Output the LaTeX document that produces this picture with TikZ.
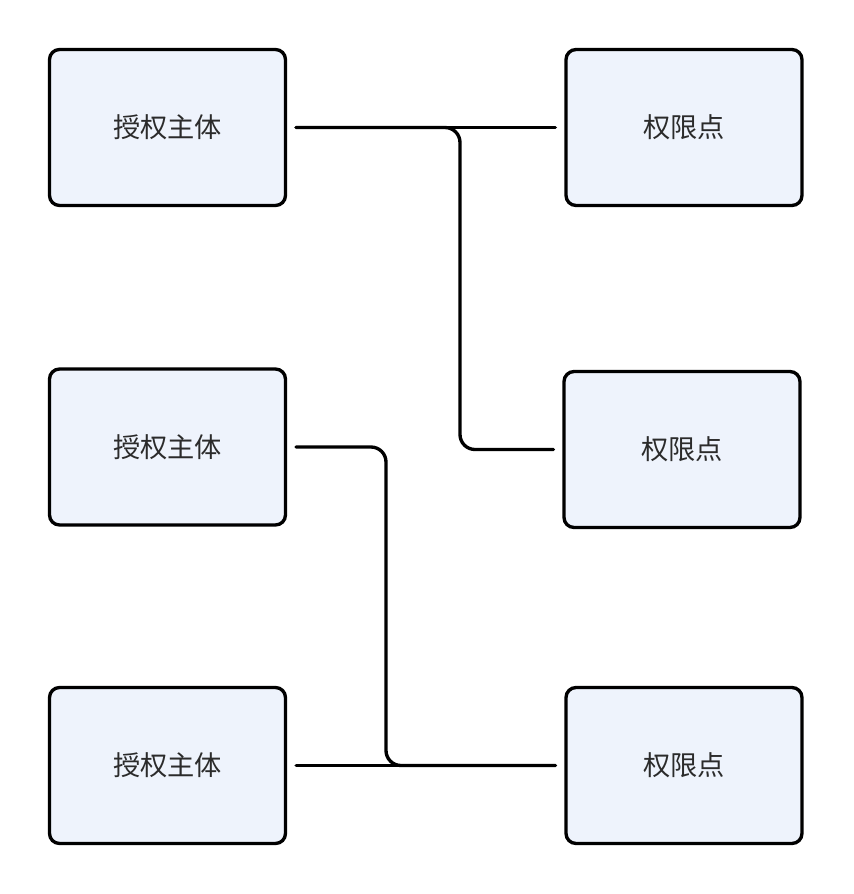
\documentclass[tikz,border=0pt]{standalone}
\usepackage{fontspec}
\newfontfamily\cjk{Noto Sans CJK SC}
\usepackage{tikz}
\usetikzlibrary{calc}
\definecolor{boxfill}{HTML}{EEF3FC}
\definecolor{boxtext}{HTML}{2B2B2B}

\begin{document}
\begin{tikzpicture}[x=0.02cm,y=-0.02cm,
   card/.style={draw=black,fill=boxfill,line width=1.9pt,rounded corners=0.2cm,
     minimum width=4.72cm,minimum height=3.12cm,inner sep=0pt,
     font=\cjk\fontsize{15.5}{18}\selectfont,text=boxtext},
   wire/.style={line width=1.9pt,line cap=round,rounded corners=0.3cm,
     shorten <=0.18cm,shorten >=0.18cm}]
  \useasboundingbox (0,0) rectangle (854,894);
  % subjects
  \node[card] (s1) at (167.5,127.5) {授权主体};
  \node[card] (s2) at (167.5,447) {授权主体};
  \node[card] (s3) at (167.5,765.5) {授权主体};
  % permission points
  \node[card] (p1) at (684,127.5) {权限点};
  \node[card] (p2) at (682,449.5) {权限点};
  \node[card] (p3) at (684,765.5) {权限点};
  % bend columns
  \coordinate (colA) at (460,0);
  \coordinate (colB) at (386,0);
  % links
  \draw[wire] (s1.east) -- (p1.west);
  \draw[wire] (s1.east) -| (colA |- p2.west) -- (p2.west);
  \draw[wire] (s2.east) -| (colB |- p3.west) -- (p3.west);
  \draw[wire] (s3.east) -- (p3.west);
\end{tikzpicture}
\end{document}
